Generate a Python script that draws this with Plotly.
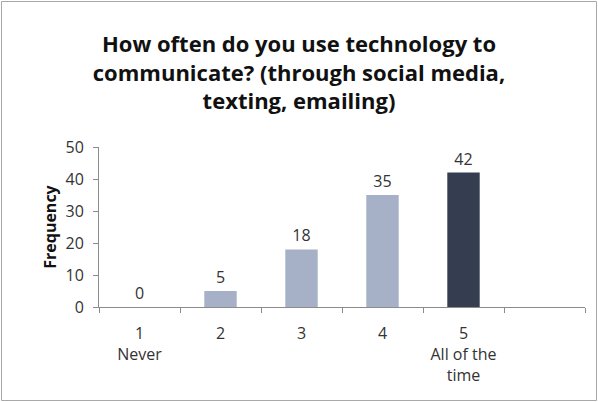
import plotly.graph_objects as go

# Survey responses: how often technology is used to communicate
scores = [1, 2, 3, 4, 5]
score_labels = ["1<br>Never", "2", "3", "4", "5<br>All of the<br>time"]
frequency = [0, 5, 18, 35, 42]
bar_colors = ["#A6B1C7", "#A6B1C7", "#A6B1C7", "#A6B1C7", "#343E50"]

W, H = 598, 402
L, R, T, B = 99, 13, 147, 95

FONT = "Open Sans, sans-serif"

fig = go.Figure(
    go.Bar(
        x=scores,
        y=frequency,
        width=0.4,
        marker=dict(color=bar_colors, line=dict(width=0)),
        text=[str(v) for v in frequency],
        textposition="outside",
        textfont=dict(family=FONT, size=16, color="#333333"),
        cliponaxis=False,
    )
)

axis_font = dict(family=FONT, size=16, color="#333333")

fig.update_layout(
    width=W,
    height=H,
    margin=dict(l=L, r=R, t=T, b=B),
    paper_bgcolor="white",
    plot_bgcolor="white",
    showlegend=False,
    title=dict(
        text="How often do you use technology to<br>communicate? (through social media,<br>texting, emailing)",
        x=0.5,
        xref="container",
        xanchor="center",
        y=1 - 52 / H,
        yref="container",
        yanchor="top",
        font=dict(family=FONT, size=22, color="#111111", weight="bold"),
    ),
    xaxis=dict(
        range=[0.5, 6.5],
        tickmode="array",
        tickvals=scores,
        ticktext=score_labels,
        ticks="",
        ticklabelstandoff=12,
        showgrid=False,
        zeroline=False,
        showline=True,
        linecolor="#8C8C8C",
        linewidth=1,
        tickfont=axis_font,
        minor=dict(
            tickmode="linear",
            tick0=0.5,
            dtick=1,
            ticks="outside",
            ticklen=5,
            tickcolor="#8C8C8C",
            showgrid=False,
        ),
    ),
    yaxis=dict(
        range=[0, 50],
        dtick=10,
        ticks="outside",
        ticklen=5,
        ticklabelstandoff=6,
        tickcolor="#8C8C8C",
        showgrid=False,
        zeroline=False,
        showline=True,
        linecolor="#8C8C8C",
        linewidth=1,
        tickfont=axis_font,
        title=dict(
            text="Frequency",
            standoff=4,
            font=dict(family=FONT, size=16, color="#111111", weight="bold"),
        ),
    ),
)

# Thin grey frame around the whole chart
pw, ph = W - L - R, H - T - B
fig.add_shape(
    type="rect",
    xref="paper",
    yref="paper",
    x0=(1.5 - L) / pw,
    x1=(W - 1.5 - L) / pw,
    y0=-(B - 1.5) / ph,
    y1=1 + (T - 1.5) / ph,
    line=dict(color="#A8A8A8", width=1),
    fillcolor="rgba(0,0,0,0)",
    layer="below",
)

fig.write_html("out.html")
